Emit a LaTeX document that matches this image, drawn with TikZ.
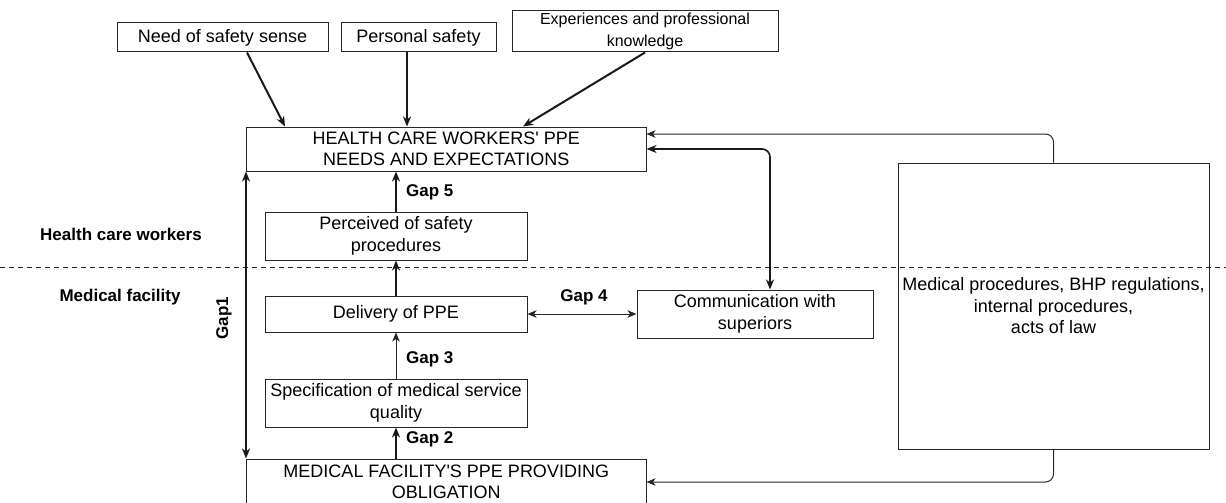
\documentclass[tikz,border=0pt]{standalone}
\usepackage{fontspec}
\setmainfont{Liberation Sans}[Ligatures=TeXOff]
\usetikzlibrary{arrows.meta}
\begin{document}
\begin{tikzpicture}[x=1pt,y=-1pt,
  box/.style={draw=black!85, line width=1pt, inner sep=0pt, align=center, font=\fontsize{18}{21.5}\selectfont},
  thk/.style={draw=black!90, line width=2pt, -{Stealth[length=10pt,width=8pt,inset=3pt]}},
  thkd/.style={draw=black!90, line width=2pt, {Stealth[length=10pt,width=8pt,inset=3pt]}-{Stealth[length=10pt,width=8pt,inset=3pt]}},
  thn/.style={draw=black!85, line width=1pt, -{Stealth[length=9pt,width=7.5pt,inset=2.5pt]}},
  thnd/.style={draw=black!85, line width=1pt, {Stealth[length=9pt,width=7.5pt,inset=2.5pt]}-{Stealth[length=9pt,width=7.5pt,inset=2.5pt]}},
  lbl/.style={font=\fontsize{17}{20}\selectfont\bfseries, inner sep=0pt}]
\useasboundingbox (0,0) rectangle (1226,503);

% separator
\coordinate (dl) at (0,267);
\coordinate (dr) at (1226,267);
\draw[black!85, line width=1pt, dash pattern=on 5pt off 4pt] (dl) -- (dr);

% boxes
\node[box, minimum width=211pt, minimum height=29pt] (need) at (222.5,37.5) {Need of safety sense};
\node[box, minimum width=155pt, minimum height=29pt] (pers) at (418.5,37.5) {Personal safety};
\node[box, minimum width=266pt, minimum height=41pt, font=\fontsize{16}{22}\selectfont] (exp) at (645,31.5) {Experiences and professional\\knowledge};
\node[box, minimum width=399.5pt, minimum height=44pt] (hcw) at (446.25,149) {HEALTH CARE WORKERS' PPE\\NEEDS AND EXPECTATIONS};
\node[box, minimum width=262pt, minimum height=48pt] (perc) at (396,236) {Perceived of safety\\procedures};
\node[box, minimum width=262pt, minimum height=36pt] (deliv) at (396,314) {Delivery of PPE};
\node[box, minimum width=262pt, minimum height=48pt] (spec) at (396,403) {Specification of medical service\\quality};
\node[box, minimum width=399.5pt, minimum height=46pt] (mf) at (446.25,482) {MEDICAL FACILITY'S PPE PROVIDING\\OBLIGATION};
\node[box, minimum width=236pt, minimum height=48pt] (comm) at (755,314) {Communication with\\superiors};
\node[box, minimum width=311pt, minimum height=286pt] (law) at (1053.5,306) {Medical procedures, BHP regulations,\\internal procedures,\\acts of law};

% labels
\node[lbl] (hcwl) at (121,234) {Health care workers};
\node[lbl] (mfl) at (120,297) {Medical facility};
\node[lbl, anchor=west] (g5) at (406,192) {Gap 5};
\node[lbl] (g4) at (584,297) {Gap 4};
\node[lbl, anchor=west] (g3) at (406,359) {Gap 3};
\node[lbl, anchor=west] (g2) at (406,439) {Gap 2};
\node[lbl, rotate=90] (g1) at (224,318) {Gap1};

% connectors
\draw[thk] ([xshift=24.5pt]need.south) -- ([xshift=-161.25pt]hcw.north);
\draw[thk] ([xshift=-11.5pt]pers.south) -- ([xshift=-39.25pt]hcw.north);
\draw[thk] (exp.south) -- ([xshift=76.75pt]hcw.north);
\draw[thkd] (hcw.south west) -- (mf.north west);
\draw[thk] (perc.north) -- (perc.north |- hcw.south);
\draw[thk] (deliv.north) -- (perc.south);
\draw[thn] (spec.north) -- (deliv.south);
\draw[thk] (spec.south |- mf.north) -- (spec.south);
\draw[thnd] (deliv.east) -- (comm.west);
\draw[thkd, line width=1.6pt, rounded corners=8pt] (hcw.east) -| ([xshift=15pt]comm.north);
\draw[thn, rounded corners=8pt] (law.north) |- ([yshift=15pt]hcw.east);
\draw[thn, rounded corners=8pt] (law.south) |- (mf.east);
\end{tikzpicture}
\end{document}
